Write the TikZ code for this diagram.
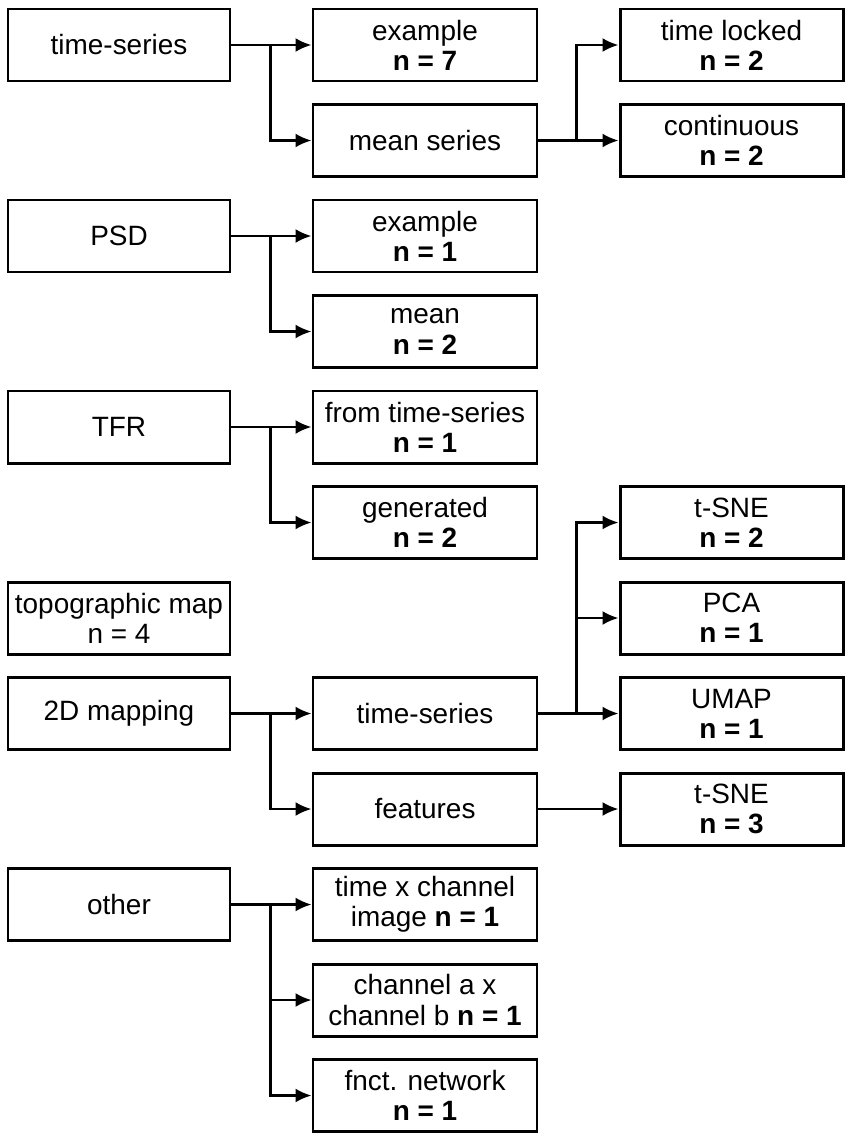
\documentclass[tikz,border=0pt]{standalone}
\usepackage{fontspec}
\setmainfont{Liberation Sans}
\usetikzlibrary{arrows.meta}
\begin{document}
\begin{tikzpicture}[
		box/.style={draw,line width=1.7pt,minimum height=1.44cm,inner sep=0pt,align=center,font=\fontsize{15.9}{17.2}\selectfont},
		boxA/.style={box,minimum width=4.44cm},
		boxB/.style={box,minimum width=4.48cm},
		boxC/.style={box,minimum width=4.46cm},
		link/.style={line width=1.4pt,-{Latex[length=3.2mm,width=2.8mm]}}
	]
		\useasboundingbox (0,0) rectangle (17.02,-22.8);
		\node[boxA] (ts) at (2.38,-0.9) {time-series};
		\node[boxB] (tsEx) at (8.5,-0.9) {example\\\textbf{n = 7}};
		\node[boxB] (tsMean) at (8.5,-2.81) {mean series};
		\node[boxC] (tsLocked) at (14.63,-0.9) {time locked\\\textbf{n = 2}};
		\node[boxC] (tsCont) at (14.63,-2.81) {continuous\\\textbf{n = 2}};
		\node[boxA] (psd) at (2.38,-4.72) {PSD};
		\node[boxB] (psdEx) at (8.5,-4.72) {example\\\textbf{n = 1}};
		\node[boxB] (psdMean) at (8.5,-6.63) {mean\\\textbf{n = 2}};
		\node[boxA] (tfr) at (2.38,-8.54) {TFR};
		\node[boxB] (tfrTs) at (8.5,-8.54) {from time-series\\\textbf{n = 1}};
		\node[boxB] (tfrGen) at (8.5,-10.45) {generated\\\textbf{n = 2}};
		\node[boxA] (topo) at (2.38,-12.36) {topographic map\\n = 4};
		\node[boxA] (map) at (2.38,-14.27) {2D mapping};
		\node[boxB] (mapTs) at (8.5,-14.27) {time-series};
		\node[boxB] (mapFeat) at (8.5,-16.18) {features};
		\node[boxC] (mapTsne) at (14.63,-10.45) {t-SNE\\\textbf{n = 2}};
		\node[boxC] (mapPca) at (14.63,-12.36) {PCA\\\textbf{n = 1}};
		\node[boxC] (mapUmap) at (14.63,-14.27) {UMAP\\\textbf{n = 1}};
		\node[boxC] (mapFtsne) at (14.63,-16.18) {t-SNE\\\textbf{n = 3}};
		\node[boxA] (other) at (2.38,-18.09) {other};
		\node[boxB] (othImg) at (8.5,-18.09) {time x channel\\image \textbf{n = 1}};
		\node[boxB] (othChan) at (8.5,-20.0) {channel a x\\channel b \textbf{n = 1}};
		\node[boxB] (othNet) at (8.5,-21.91) {fnct. network\\\textbf{n = 1}};
		\draw[link] (ts.east) -- (tsEx.west);
		\draw[link] (ts.east) -| ([xshift=-0.82cm]tsMean.west) -- (tsMean.west);
		\draw[link] (tsMean.east) -| ([xshift=-0.84cm]tsLocked.west) -- (tsLocked.west);
		\draw[link] (tsMean.east) -- (tsCont.west);
		\draw[link] (psd.east) -- (psdEx.west);
		\draw[link] (psd.east) -| ([xshift=-0.82cm]psdMean.west) -- (psdMean.west);
		\draw[link] (tfr.east) -- (tfrTs.west);
		\draw[link] (tfr.east) -| ([xshift=-0.82cm]tfrGen.west) -- (tfrGen.west);
		\draw[link] (map.east) -- (mapTs.west);
		\draw[link] (map.east) -| ([xshift=-0.82cm]mapFeat.west) -- (mapFeat.west);
		\draw[link] (mapTs.east) -| ([xshift=-0.84cm]mapTsne.west) -- (mapTsne.west);
		\draw[link] (mapTs.east) -| ([xshift=-0.84cm]mapPca.west) -- (mapPca.west);
		\draw[link] (mapTs.east) -- (mapUmap.west);
		\draw[link] (mapFeat.east) -- (mapFtsne.west);
		\draw[link] (other.east) -- (othImg.west);
		\draw[link] (other.east) -| ([xshift=-0.82cm]othChan.west) -- (othChan.west);
		\draw[link] (other.east) -| ([xshift=-0.82cm]othNet.west) -- (othNet.west);
	\end{tikzpicture}
\end{document}
